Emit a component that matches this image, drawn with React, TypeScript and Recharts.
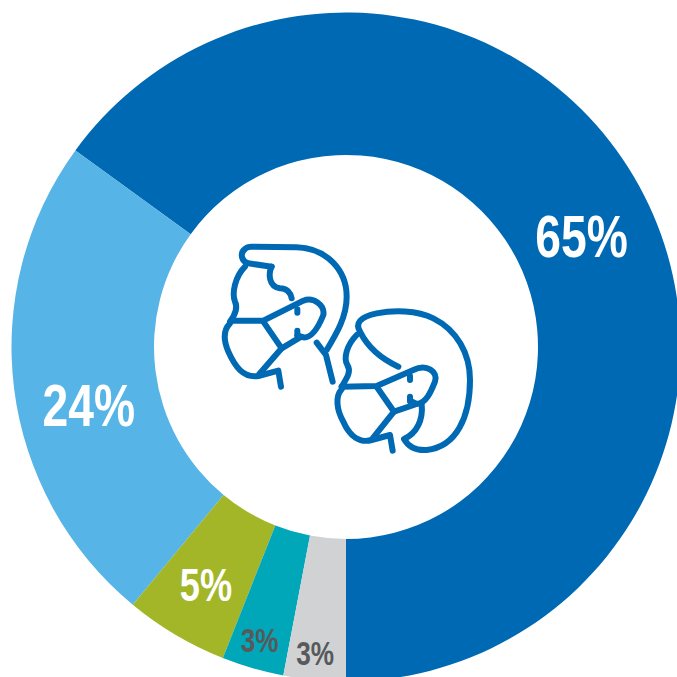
import React from 'react';
import { PieChart, Pie, Cell } from 'recharts';

const names = ['Dark blue', 'Light blue', 'Olive', 'Teal', 'Grey'];
const values = [65, 24, 5, 3, 3];
const colors = ['#0069B4', '#56B4E6', '#A2B628', '#00A7B8', '#D0D2D3'];
const labelColors = ['#FFFFFF', '#FFFFFF', '#FFFFFF', '#58595B', '#58595B'];
const labelSizes = [60, 60, 47, 34, 34];
// label tweak from the ring's midline, px
const labelNudge = [
  [1, 9],
  [4, 25],
  [-6, 11],
  [-13, 40],
  [-6, 44],
];

const data = names.map((name, i) => ({ name, value: values[i] }));
const RADIAN = Math.PI / 180;

const renderLabel = (props: any) => {
  const { cx, cy, midAngle, innerRadius, outerRadius, index } = props;
  const r = (innerRadius + outerRadius) / 2;
  const x = cx + r * Math.cos(-midAngle * RADIAN) + labelNudge[index][0];
  const y = cy + r * Math.sin(-midAngle * RADIAN) + labelNudge[index][1];
  // no narrow face installed, so squeeze the bold one
  return (
    <text
      transform={`translate(${x} ${y}) scale(0.77 1)`}
      fill={labelColors[index]}
      fontFamily='"Liberation Sans", sans-serif'
      fontWeight={700}
      fontSize={labelSizes[index]}
      textAnchor='middle'
      dominantBaseline='central'
    >
      {values[index]}%
    </text>
  );
};

// two heads with masks
const iconPaths = [
  'M215 110 L145 100 C125 95 118 70 135 57 C140 52 145 50 155 50 L290 52 C380 55 440 120 440 200 C440 260 410 310 380 360',
  'M350 338 L378 375 L398 455',
  'M135 110 C105 140 95 190 105 215 C115 235 105 255 90 275',
  'M215 110 C205 130 205 170 240 175 C262 175 272 190 275 205',
  'M95 272 L190 272 L310 212 C340 200 375 225 370 255 C360 280 340 325 310 322 L292 316 M245 355 L300 322',
  'M90 280 C70 300 70 330 85 365 C105 410 130 445 175 438 L235 422 L243 470',
  'M178 432 L245 355 L190 275',
  'M292 238 L292 248 M292 302 L292 316',
  'M595 410 C540 385 500 345 480 305 C465 280 480 260 530 250 C580 240 650 240 700 265 C770 300 810 370 810 450 C810 560 770 650 680 660 C650 662 625 650 612 627 C650 610 670 570 665 522',
  'M470 315 C440 345 430 385 442 405 C455 425 440 445 425 470',
  'M425 470 L530 468 L640 420 C680 400 715 425 705 455 C695 480 680 520 650 522 L630 512 M582 545 L650 522',
  'M425 478 C405 500 410 540 430 575 C450 620 480 640 515 630 L570 615 L578 662',
  'M518 625 L582 545 L530 470',
  'M630 438 L630 450 M630 500 L630 514',
];

const App = () => {
  return (
    <div style={{ position: 'absolute', left: 0, top: 0, width: 677, height: 677, overflow: 'hidden', background: '#fff' }}>
      <PieChart width={677} height={677} margin={{ top: 0, right: 0, bottom: 0, left: 0 }}>
        <Pie
          data={data}
          dataKey='value'
          cx={346}
          cy={347}
          innerRadius={192}
          outerRadius={334.5}
          startAngle={-90}
          endAngle={270}
          stroke='none'
          label={renderLabel}
          labelLine={false}
          isAnimationActive={false}
        >
          {data.map((entry, index) => (
            <Cell key={`cell-${index}`} fill={colors[index]} />
          ))}
        </Pie>
      </PieChart>
      <svg
        width={290}
        height={230}
        viewBox='0 0 870 690'
        style={{ position: 'absolute', left: 200, top: 230 }}
        fill='none'
        stroke='#0069B4'
        strokeWidth={18}
        strokeLinecap='round'
        strokeLinejoin='round'
      >
        {iconPaths.map((d, i) => (
          <path key={i} d={d} />
        ))}
      </svg>
    </div>
  );
};

export default App;
